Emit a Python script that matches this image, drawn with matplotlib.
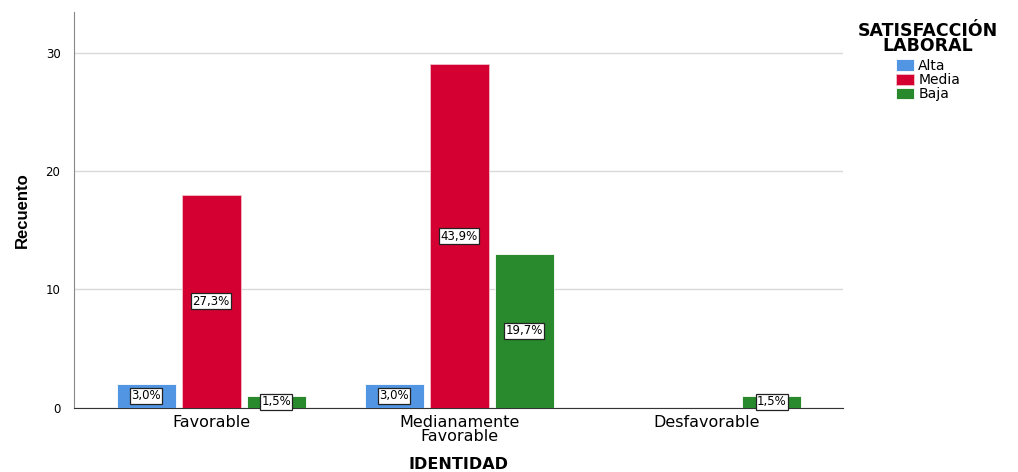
import numpy as np
import matplotlib
matplotlib.use('Agg')
import matplotlib.pyplot as plt

plt.rcParams['font.family'] = ['DejaVu Sans']

# counts per identity group and satisfaction level
categories = ['Favorable', 'Medianamente\nFavorable', 'Desfavorable']
levels = ['Alta', 'Media', 'Baja']
alta = [2, 2, 0]
media = [18, 29, 0]
baja = [1, 13, 1]
total = 66

colors = ['#5295e2', '#d50032', '#288a2c']

fig = plt.figure(figsize=(10.18, 4.72), dpi=100)
ax = fig.add_axes([0.073, 0.136, 0.755, 0.838])

x = np.arange(len(categories))
width = 0.238
step = 0.262

for i, (vals, col, name) in enumerate(zip([alta, media, baja], colors, levels)):
    pos = x + (i - 1) * step
    ax.bar(pos, vals, width=width, color=col, edgecolor='#f2c0c8' if i == 1 else 'white',
           linewidth=0.6, label=name, zorder=3)
    for px, v in zip(pos, vals):
        if v == 0:
            continue
        pct = f"{v / total * 100:.1f}%".replace('.', ',')
        ax.text(px, v / 2, pct, ha='center', va='center', fontsize=8.5, zorder=5,
                bbox=dict(boxstyle='square,pad=0.12', facecolor='white',
                          edgecolor='#222222', linewidth=0.9))

ax.set_xlim(-0.552, 2.548)
ax.set_ylim(0, 33.4)
ax.set_yticks([0, 10, 20, 30])
ax.set_xticks(x)
ax.set_xticklabels(categories, fontsize=11.5, linespacing=0.9)
ax.tick_params(axis='y', length=0, labelsize=8.5, pad=10)
ax.tick_params(axis='x', length=0, pad=5)
ax.grid(axis='y', color='#d9d9d9', linewidth=1, zorder=0)

for side in ['top', 'right']:
    ax.spines[side].set_visible(False)
ax.spines['left'].set_color('#888888')
ax.spines['bottom'].set_color('#333333')

ax.set_ylabel('Recuento', fontsize=12, fontweight='bold', labelpad=11,
              family='Liberation Sans')
ax.set_xlabel('IDENTIDAD', fontsize=11.5, fontweight='bold', labelpad=10)

leg = fig.legend(title='SATISFACCIÓN\nLABORAL', loc='upper center',
                 bbox_to_anchor=(928 / 1018, 1 - 12 / 472), frameon=False,
                 fontsize=10, handlelength=1.3, handleheight=0.9,
                 handletextpad=0.3, labelspacing=0.02, borderpad=0.2)
leg.get_title().set_fontweight('bold')
leg.get_title().set_fontsize(12.5)
leg.get_title().set_multialignment('center')
leg.get_title().set_linespacing(0.78)
leg._legend_box.sep = 3

fig.savefig('out.png', dpi=100)
